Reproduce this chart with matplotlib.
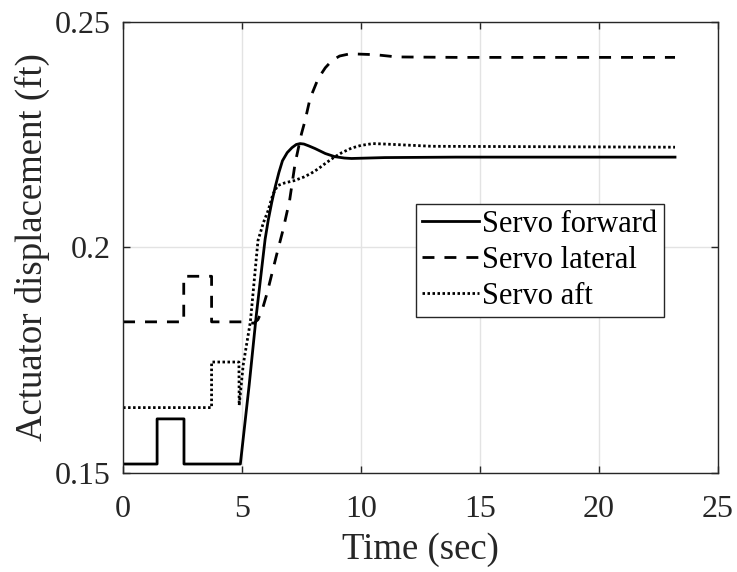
import numpy as np
import matplotlib
matplotlib.use("Agg")
import matplotlib.pyplot as plt

plt.rcParams['font.family'] = ['Liberation Serif', 'DejaVu Serif']

# time / displacement samples for each servo (ft)
t_fwd = [0, 1.43, 1.43, 2.56, 2.56, 4.93, 5.3, 5.6, 5.97, 6.1, 6.25, 6.39, 6.55, 6.7,
         6.9, 7.1, 7.28, 7.44, 7.6, 7.8, 8.07, 8.5, 8.9, 9.3, 9.6, 11.0, 14.0, 23.2]
y_fwd = [0.152, 0.152, 0.162, 0.162, 0.152, 0.152, 0.1695, 0.1850, 0.2018, 0.2060,
         0.2100, 0.2133, 0.2166, 0.2192, 0.2210, 0.2221, 0.2228, 0.2230, 0.2229,
         0.2225, 0.2219, 0.2208, 0.2201, 0.2198, 0.2197, 0.2199, 0.2200, 0.2200]

t_lat = [0, 2.55, 2.55, 3.72, 3.72, 5.0, 5.3, 5.5, 5.67, 5.85, 6.05, 6.47, 6.72, 7.0,
         7.23, 7.5, 7.65, 7.86, 8.2, 8.5, 8.78, 9.1, 9.54, 10.6, 11.5, 14.0, 23.2]
y_lat = [0.1835, 0.1835, 0.1936, 0.1936, 0.1835, 0.1835, 0.1833, 0.1832, 0.1840,
         0.1862, 0.1898, 0.1987, 0.2038, 0.2104, 0.2186, 0.2252, 0.2281, 0.2330,
         0.2374, 0.2398, 0.2414, 0.2424, 0.2429, 0.2427, 0.2422, 0.2421, 0.2421]

t_aft = [0, 3.72, 3.72, 4.87, 4.88, 5.05, 5.35, 5.67, 5.9, 6.1, 6.3, 6.5, 6.8, 7.2,
         7.6, 7.9, 8.2, 8.5, 8.85, 9.2, 9.6, 10.0, 10.5, 11.0, 13.0, 23.2]
y_aft = [0.1645, 0.1645, 0.1746, 0.1746, 0.1650, 0.1740, 0.1835, 0.2015, 0.2055,
         0.2082, 0.2118, 0.2137, 0.2143, 0.2148, 0.2156, 0.2164, 0.2174, 0.2186,
         0.2199, 0.2210, 0.2220, 0.2226, 0.2230, 0.2229, 0.2224, 0.2222]

labels = ['Servo forward', 'Servo lateral', 'Servo aft']

fig = plt.figure(figsize=(7.37, 5.72), dpi=100)
ax = fig.add_axes([0.167, 0.173, 0.807, 0.789])

ax.plot(t_fwd, y_fwd, color='black', lw=2.0, label=labels[0])
ax.plot(t_lat, y_lat, color='black', lw=2.0, dashes=(4.3, 3.6), label=labels[1])
ax.plot(t_aft, y_aft, color='black', lw=2.0, dashes=(0.9, 0.9), label=labels[2])

ax.set_xlim(0, 25)
ax.set_ylim(0.15, 0.25)
ax.set_xticks([0, 5, 10, 15, 20, 25])
ax.set_yticks([0.15, 0.2, 0.25])
ax.set_yticklabels(['0.15', '0.2', '0.25'])
ax.grid(True, color='#e3e3e3', lw=1.0)
ax.set_axisbelow(True)

ax.tick_params(direction='in', top=True, right=True, length=5, width=1,
               colors='#262626', labelsize=23)
ax.tick_params(axis='x', pad=16)
ax.tick_params(axis='y', pad=9)
for s in ax.spines.values():
    s.set_color('#262626')
    s.set_linewidth(1.0)

ax.set_xlabel('Time (sec)', fontsize=26.5, color='#262626', labelpad=6)
ax.set_ylabel('Actuator displacement (ft)', fontsize=26.5, color='#262626', labelpad=3)

leg = ax.legend(loc='upper right', bbox_to_anchor=(0.909, 0.596), fontsize=22,
                handlelength=1.85, handletextpad=0.12, borderpad=0.2,
                labelspacing=0.22, borderaxespad=0, fancybox=False,
                framealpha=1, edgecolor='#262626')
leg.get_frame().set_linewidth(1.0)

fig.savefig('out.png', dpi=100)
